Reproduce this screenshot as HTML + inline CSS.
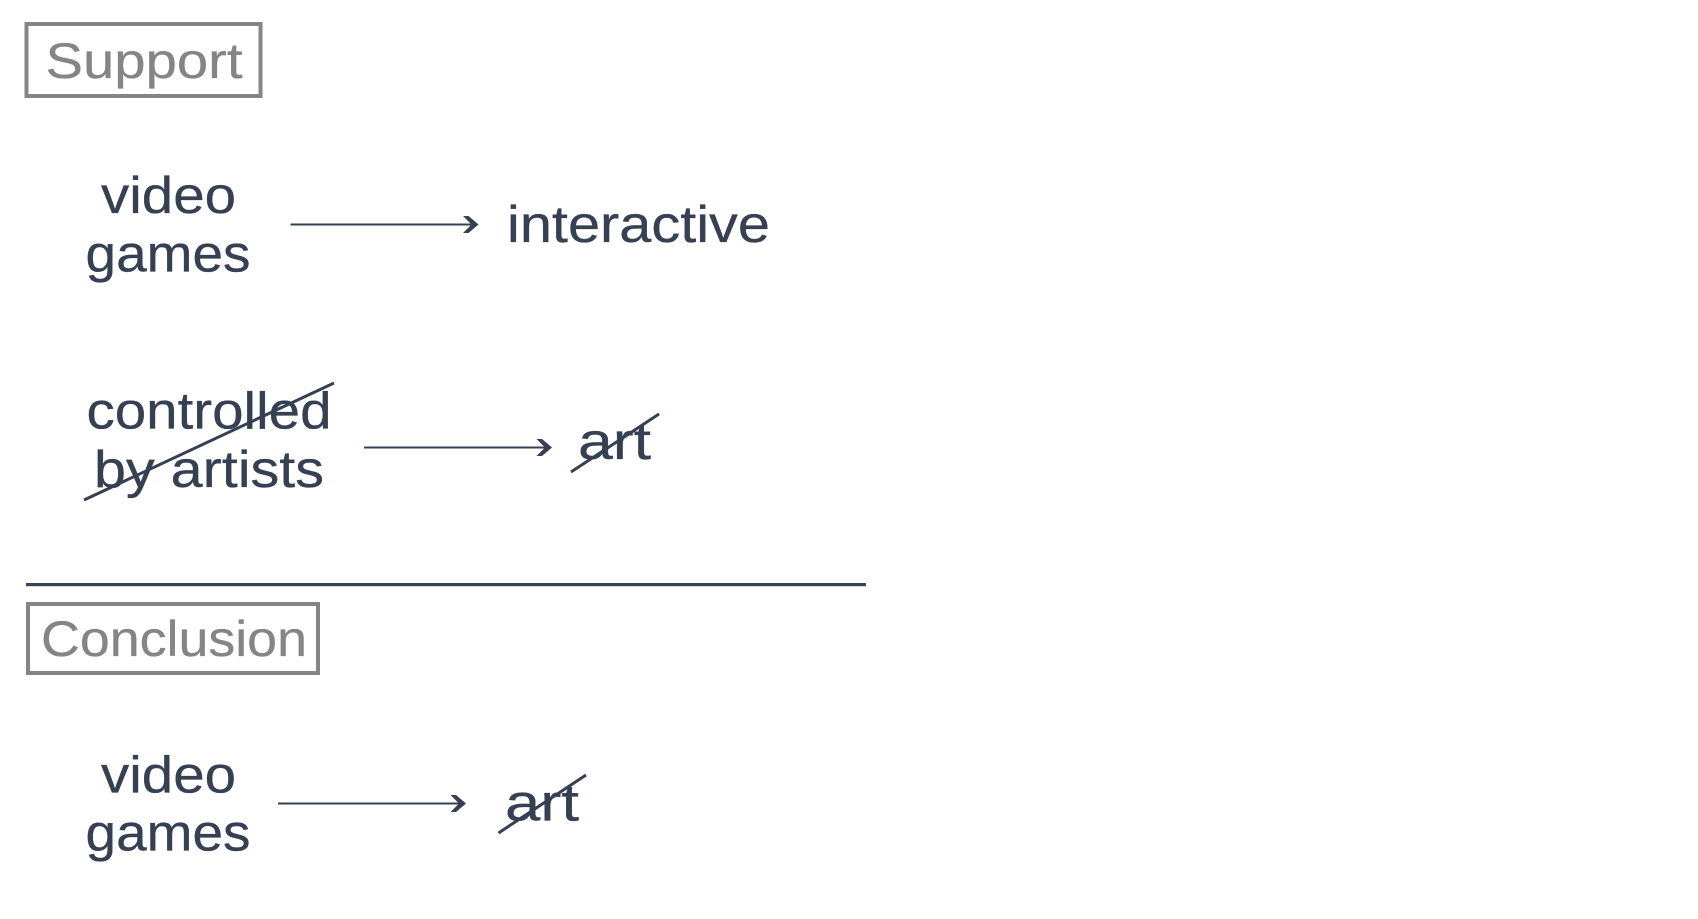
<!DOCTYPE html>
<html lang="en">
<head>
<meta charset="utf-8">
<title>Support and Conclusion</title>
<style>
html,body{margin:0;padding:0;background:#fff;width:1698px;height:919px;overflow:hidden}
svg{display:block}
text{font-family:"Liberation Sans",sans-serif;font-size:52px;fill:#354052;stroke:#354052;stroke-width:.3px}
.g{fill:#858585;stroke:#858585;font-size:50px}
.l{stroke:#354052;fill:none}
.h{fill:#354052;stroke:none}
</style>
</head>
<body>
<svg width="1698" height="919" viewBox="0 0 1698 919" xmlns="http://www.w3.org/2000/svg">
<rect x="26.5" y="24" width="234" height="72" fill="none" stroke="#858585" stroke-width="4"/>
<text class="g" x="45.5" y="78" textLength="197" lengthAdjust="spacingAndGlyphs">Support</text>

<text x="101" y="213" textLength="135" lengthAdjust="spacingAndGlyphs">video</text>
<text x="85.5" y="271.5" textLength="165" lengthAdjust="spacingAndGlyphs">games</text>
<line class="l" x1="290.5" y1="224.5" x2="474" y2="224.5" stroke-width="2"/>
<path class="h" d="M463 216L468.5 216L478.5 224.5L468.5 233L463 233L471.5 224.5Z"/>
<text x="507" y="242" textLength="263" lengthAdjust="spacingAndGlyphs">interactive</text>

<text x="86.5" y="428.5" textLength="245" lengthAdjust="spacingAndGlyphs">controlled</text>
<text x="94" y="487" textLength="230" lengthAdjust="spacingAndGlyphs">by artists</text>
<line class="l" x1="84" y1="500" x2="334" y2="383" stroke-width="3"/>
<line class="l" x1="364" y1="447.5" x2="548" y2="447.5" stroke-width="2"/>
<path class="h" d="M536.5 439L542 439L552 447.5L542 456L536.5 456L545 447.5Z"/>
<text x="578" y="459" textLength="73" lengthAdjust="spacingAndGlyphs">art</text>
<line class="l" x1="571" y1="472" x2="659" y2="414" stroke-width="3"/>

<rect x="26" y="583" width="840" height="3.2" fill="#3a4354"/>

<rect x="28" y="604" width="290" height="69" fill="none" stroke="#858585" stroke-width="4"/>
<text class="g" x="41" y="656" textLength="266" lengthAdjust="spacingAndGlyphs">Conclusion</text>

<text x="101" y="792.5" textLength="135" lengthAdjust="spacingAndGlyphs">video</text>
<text x="85.5" y="850.5" textLength="165" lengthAdjust="spacingAndGlyphs">games</text>
<line class="l" x1="278" y1="803.5" x2="461.5" y2="803.5" stroke-width="2"/>
<path class="h" d="M450.5 795L456 795L466 803.5L456 812L450.5 812L459 803.5Z"/>
<text x="505" y="820.5" textLength="74" lengthAdjust="spacingAndGlyphs">art</text>
<line class="l" x1="498.5" y1="833" x2="586" y2="775" stroke-width="3"/>
</svg>
</body>
</html>
